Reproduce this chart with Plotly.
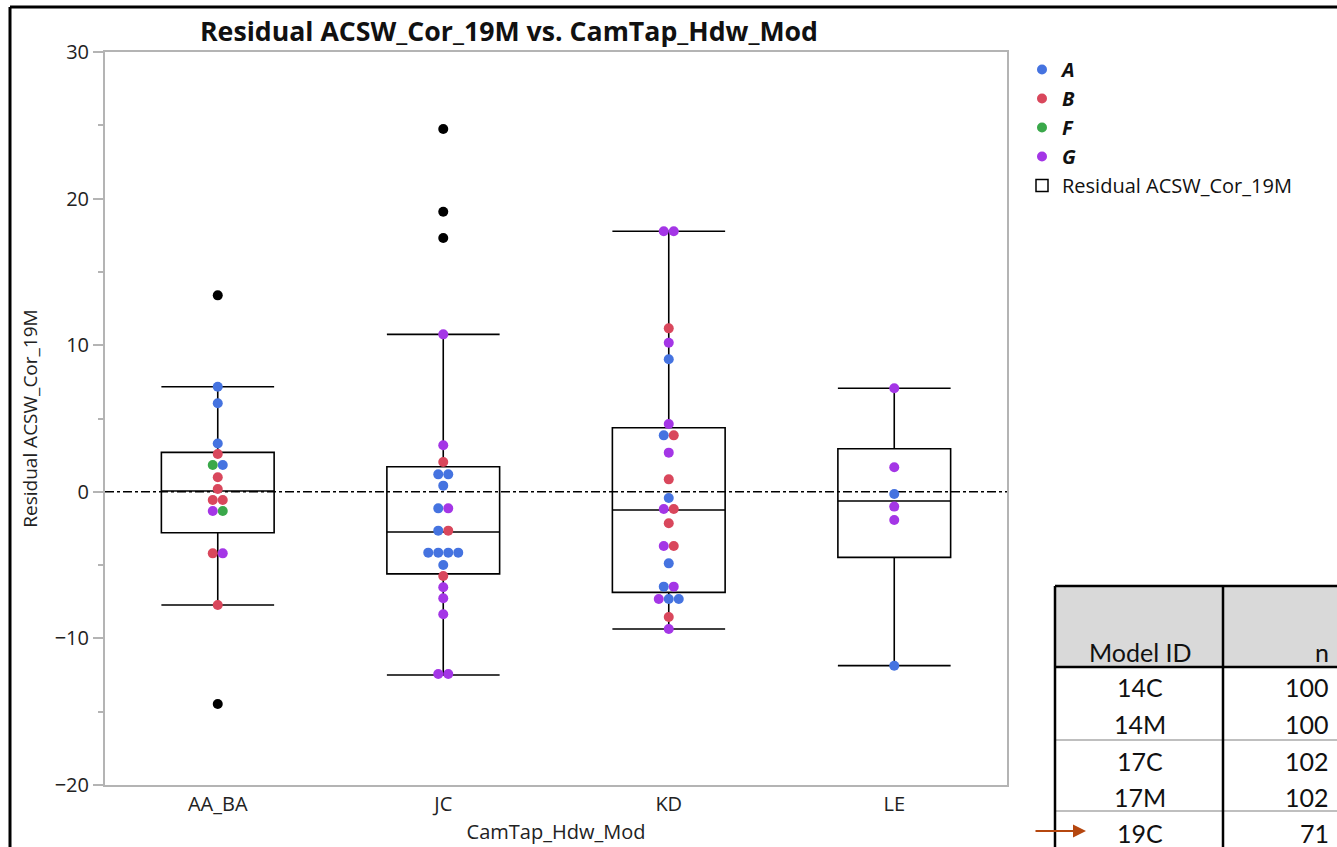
import plotly.graph_objects as go
import numpy as np

# ---------------- data ----------------
categories = ["AA_BA", "JC", "KD", "LE"]

aa_ba_values = [13.4, 7.17, 6.04, 3.3, 2.58, 1.83, 1.83, 0.99, 0.19, -0.56, -0.56,
                -1.31, -1.31, -4.2, -4.2, -7.72, -14.47]
aa_ba_groups = ["O", "A", "A", "A", "B", "F", "A", "B", "B", "B", "B",
                "G", "F", "B", "G", "B", "O"]

jc_values = [24.75, 19.1, 17.31, 10.74, 3.17, 2.03, 1.19, 1.19, 0.42, -1.13, -1.13,
             -2.65, -2.65, -4.15, -4.15, -4.15, -4.15, -4.99, -5.74, -6.51, -7.26,
             -8.35, -12.43, -12.43]
jc_groups = ["O", "O", "O", "G", "G", "B", "A", "A", "A", "A", "G",
             "A", "B", "A", "A", "A", "A", "A", "B", "G", "G",
             "G", "G", "G"]

kd_values = [17.77, 17.77, 11.15, 10.17, 9.04, 4.62, 3.85, 3.85, 2.67, 0.85, -0.42,
             -1.17, -1.17, -2.15, -3.7, -3.7, -4.88, -6.47, -6.47, -7.31, -7.31,
             -7.31, -8.54, -9.36]
kd_groups = ["G", "G", "B", "G", "A", "G", "A", "B", "G", "B", "A",
             "G", "B", "B", "G", "B", "A", "A", "G", "G", "A",
             "A", "B", "G"]

le_values = [7.06, 1.67, -0.15, -1.01, -1.92, -11.86]
le_groups = ["G", "G", "A", "G", "G", "A"]

# box summary
box_lowerfence = [-7.72, -12.5, -9.36, -11.86]
box_q1 = [-2.79, -5.6, -6.86, -4.47]
box_median = [0.05, -2.74, -1.24, -0.63]
box_q3 = [2.69, 1.71, 4.37, 2.94]
box_upperfence = [7.17, 10.74, 17.77, 7.06]

legend_groups = ["A", "B", "F", "G"]
group_colors = {"A": "#4573e0", "B": "#d9475c", "F": "#3aa84a", "G": "#a436e6", "O": "#000000"}

table_header = ["Model ID", "n"]
table_models = ["14C", "14M", "17C", "17M", "19C"]
table_n = ["100", "100", "102", "102", "71"]

# ---------------- layout geometry ----------------
W, H = 1337, 847
L, R, T, B = 105, 1007, 52, 785
ML, MR, MT, MB = L, W - R, T, H - B
PW, PH = R - L, B - T
xrange_ = [-0.5, 3.5]
yrange_ = [-20, 30]
MARKER_PX = 10
step = MARKER_PX / (PW / (xrange_[1] - xrange_[0]))


def px(x, y):
    return (x - L) / PW, (B - y) / PH


per_cat = [(aa_ba_values, aa_ba_groups), (jc_values, jc_groups),
           (kd_values, kd_groups), (le_values, le_groups)]

pts = {g: ([], []) for g in group_colors}
for ci, (vals, grps) in enumerate(per_cat):
    rows = {}
    for v, g in zip(vals, grps):
        rows.setdefault(round(v, 2), []).append(g)
    for v, gl in rows.items():
        k = len(gl)
        for j, g in enumerate(gl):
            pts[g][0].append(ci + (j - (k - 1) / 2) * step)
            pts[g][1].append(v)

fig = go.Figure()

fig.add_trace(go.Box(
    x=list(range(len(categories))), q1=box_q1, median=box_median, q3=box_q3,
    lowerfence=box_lowerfence, upperfence=box_upperfence,
    width=0.5, whiskerwidth=1, boxpoints=False,
    line=dict(color="black", width=1.6), fillcolor="rgba(255,255,255,0)",
    name="Residual ACSW_Cor_19M", hoverinfo="skip", showlegend=False))

for g in legend_groups:
    fig.add_trace(go.Scatter(
        x=pts[g][0], y=pts[g][1], mode="markers", name=f"<b><i>{g}</i></b>",
        marker=dict(color=group_colors[g], size=MARKER_PX)))
fig.add_trace(go.Scatter(
    x=pts["O"][0], y=pts["O"][1], mode="markers", showlegend=False,
    marker=dict(color="black", size=MARKER_PX)))

# legend entry for the box element
fig.add_trace(go.Box(
    x=[None], y=[None], name="Residual ACSW_Cor_19M", showlegend=True,
    line=dict(color="black", width=1.5), fillcolor="rgba(255,255,255,0)"))

fig.add_hline(y=0, line=dict(color="black", width=1.6, dash="dashdot"), layer="below")

font = "Open Sans, Noto Sans, sans-serif"
fig.update_layout(
    width=W, height=H,
    margin=dict(l=ML, r=MR, t=MT, b=MB, pad=0, autoexpand=False),
    paper_bgcolor="white", plot_bgcolor="white",
    font=dict(family=font, size=20, color="#222"),
    showlegend=True,
    legend=dict(x=px(1022, 0)[0], y=px(0, 50)[1], xanchor="left", yanchor="top",
                font=dict(size=20, color="#111"), bgcolor="rgba(0,0,0,0)",
                tracegroupgap=0, itemwidth=30),
    xaxis=dict(range=xrange_, tickvals=list(range(len(categories))), ticktext=categories,
               automargin=False,
               showgrid=False, zeroline=False, showline=True, linecolor="#b4b4b4",
               linewidth=2, mirror=True, ticks="", tickfont=dict(size=20, color="#222"),
               title=dict(text="CamTap_Hdw_Mod", font=dict(size=20, color="#222"), standoff=9)),
    yaxis=dict(range=yrange_, tickvals=[-20, -10, 0, 10, 20, 30],
               automargin=False,
               showgrid=False, zeroline=False, showline=True, linecolor="#b4b4b4",
               linewidth=2, mirror=True, ticks="outside", ticklen=10, tickwidth=2,
               tickcolor="#b4b4b4", tickfont=dict(size=20, color="#222"),
               minor=dict(dtick=5, ticks="outside", ticklen=5, tickwidth=2, tickcolor="#b4b4b4"),
               title=dict(text="Residual ACSW_Cor_19M", font=dict(size=19, color="#222"), standoff=12)),
)

ann = []
shapes = []
# title
tx, ty = px(509, 31)
ann.append(dict(text="<b>Residual ACSW_Cor_19M vs. CamTap_Hdw_Mod</b>", x=tx, y=ty,
                xref="paper", yref="paper", showarrow=False, xanchor="center", yanchor="middle",
                font=dict(size=26.7, color="#111", family=font)))

# outer frame
x0, y0 = px(10, 7)
x1, y1 = px(W + 5, H + 5)
shapes.append(dict(type="line", xref="paper", yref="paper", x0=x0, y0=y0, x1=x0, y1=y1,
                   line=dict(color="black", width=3)))
shapes.append(dict(type="line", xref="paper", yref="paper", x0=x0, y0=y0, x1=x1, y1=y0,
                   line=dict(color="black", width=3)))

# table
tl, tr_ = 1055, W + 5
tc = 1223
ttop, thead = 586, 667
hx0, hy0 = px(tl, ttop)
hx1, hy1 = px(tr_, thead)
shapes.append(dict(type="rect", xref="paper", yref="paper", x0=hx0, y0=hy0, x1=hx1, y1=hy1,
                   fillcolor="#d9d9d9", line=dict(width=0), layer="below"))
for (a, b, c, d, col, w) in [
    (tl, ttop, tr_, ttop, "black", 2.5),
    (tl, thead, tr_, thead, "black", 2.5),
    (tl, 740, tr_, 740, "#bfbfbf", 2),
    (tl, 811, tr_, 811, "#bfbfbf", 2),
    (tl, ttop, tl, H + 5, "black", 2.5),
    (tc, ttop, tc, H + 5, "black", 2.5),
]:
    p0 = px(a, b)
    p1 = px(c, d)
    shapes.append(dict(type="line", xref="paper", yref="paper", x0=p0[0], y0=p0[1],
                       x1=p1[0], y1=p1[1], line=dict(color=col, width=w)))

tfont = dict(family="Lato, Carlito, sans-serif", size=25, color="#111")
hx, hy = px(1140, 652)
ann.append(dict(text=table_header[0], x=hx, y=hy, xref="paper", yref="paper", showarrow=False,
                xanchor="center", yanchor="middle", font=tfont))
hx, hy = px(1331, 652)
ann.append(dict(text=table_header[1], x=hx, y=hy, xref="paper", yref="paper", showarrow=False,
                xanchor="right", yanchor="middle", font=tfont))
row_y = [687, 724, 761, 797, 833]
for m, n, yy in zip(table_models, table_n, row_y):
    ax_, ay_ = px(1140, yy)
    ann.append(dict(text=m, x=ax_, y=ay_, xref="paper", yref="paper", showarrow=False,
                    xanchor="center", yanchor="middle", font=tfont))
    ax_, ay_ = px(1331, yy)
    ann.append(dict(text=n, x=ax_, y=ay_, xref="paper", yref="paper", showarrow=False,
                    xanchor="right", yanchor="middle", font=tfont))

# arrow pointing to 19C
ahx, ahy = px(1086, 831)
ann.append(dict(text="", x=ahx, y=ahy, xref="paper", yref="paper", ax=-52, ay=0,
                axref="pixel", ayref="pixel", showarrow=True, arrowhead=2, arrowsize=1.3,
                arrowwidth=2, arrowcolor="#b5470f"))

fig.update_layout(annotations=ann, shapes=list(fig.layout.shapes) + shapes)

fig.write_html("out.html", config={"displayModeBar": False},
               post_script="document.body.style.margin='0';document.body.style.overflow='hidden';")
